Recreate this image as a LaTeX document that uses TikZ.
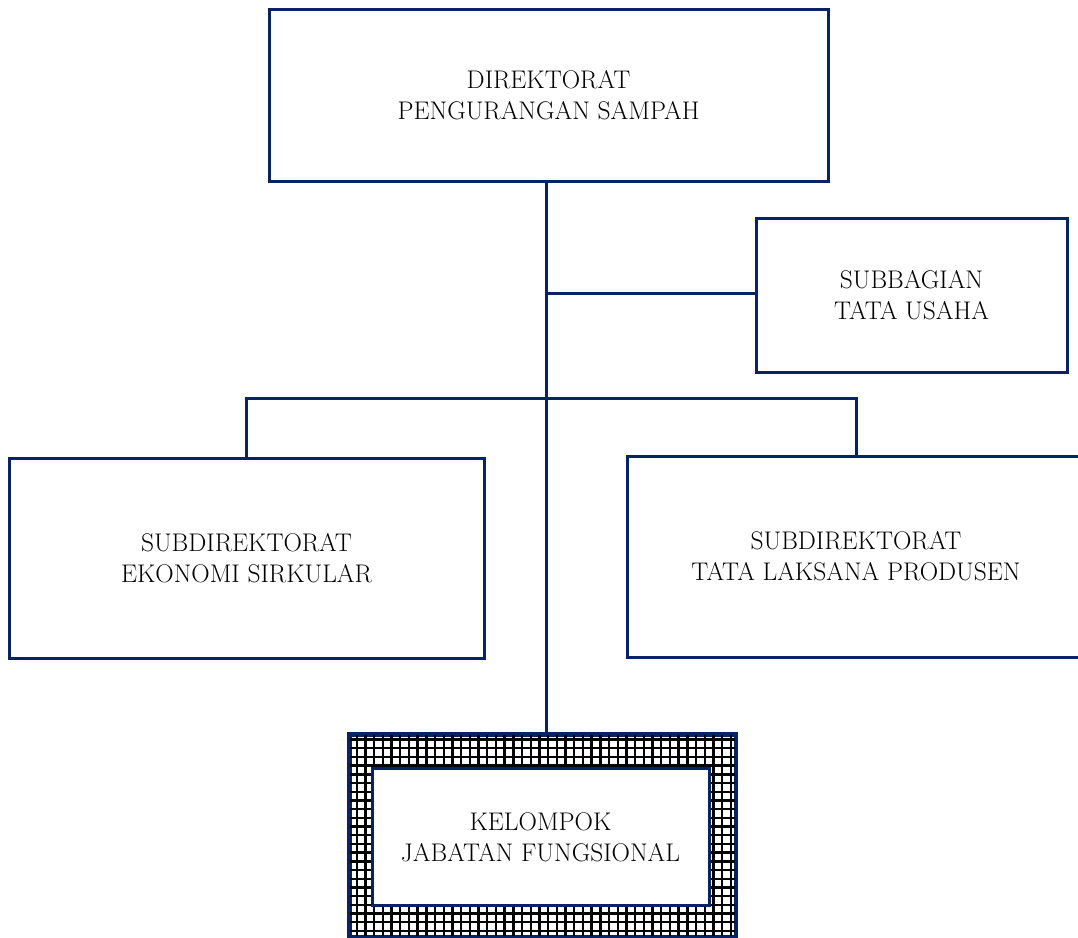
\documentclass[tikz,border=0pt]{standalone}
\definecolor{navy}{RGB}{6,36,100}
\begin{document}
\begin{tikzpicture}[x=1pt,y=1pt,
  box/.style={draw=navy,line width=3pt,fill=white,align=center,inner sep=0pt,
    font=\fontsize{25.5}{31}\selectfont},
  conn/.style={draw=navy,line width=3pt}]
\useasboundingbox (0,0) rectangle (1078,-937);
\clip (0,0) rectangle (1078,-937);
% kelompok pattern
\node[draw=navy,line width=3pt,minimum width=385pt,minimum height=201pt,inner sep=0pt] (kelo) at (542.5,-835.5) {};
\begin{scope}
  \clip (kelo.south west) rectangle (kelo.north east);
  \draw[black,line width=2.4pt,step=8.7pt] (340,-945) grid (745,-725);
\end{scope}
\draw[navy,line width=3pt] (kelo.south west) rectangle (kelo.north east);
\node[box,minimum width=337pt,minimum height=137pt] (kel) at (540.5,-837) {KELOMPOK\\JABATAN FUNGSIONAL};
% boxes
\node[box,minimum width=559pt,minimum height=172pt] (dir) at (548.5,-95) {DIREKTORAT\\PENGURANGAN SAMPAH};
\node[box,minimum width=311pt,minimum height=154pt] (tu) at (911.5,-295) {SUBBAGIAN\\TATA USAHA};
\node[box,minimum width=475pt,minimum height=200pt] (eko) at (246.5,-558) {SUBDIREKTORAT\\EKONOMI SIRKULAR};
\node[box,minimum width=458pt,minimum height=201pt] (tlp) at (856,-556.5) {SUBDIREKTORAT\\TATA LAKSANA PRODUSEN};
% connectors
\coordinate (j1) at (546,-293);
\coordinate (j2) at (546,-398);
\draw[conn] (dir.south -| j1) -- (kelo.north -| j1);
\draw[conn] (j1) -- (tu.west |- j1);
\draw[conn] (eko.north) |- (j2) -| (tlp.north);
\end{tikzpicture}
\end{document}
